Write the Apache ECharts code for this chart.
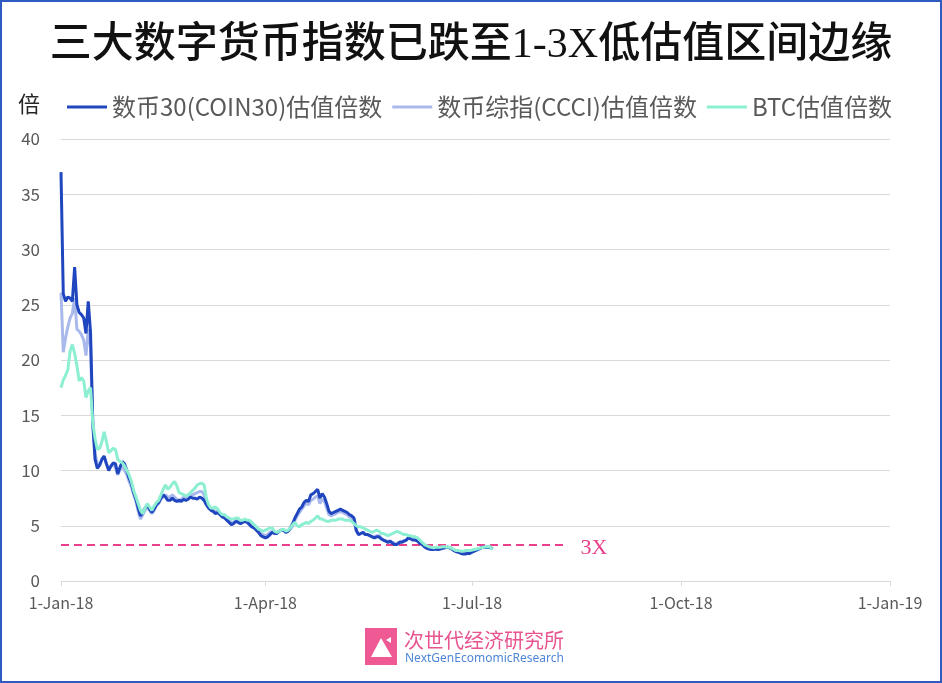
<!DOCTYPE html>
<html>
<head>
<meta charset="utf-8">
<script src="https://cdn.jsdelivr.net/npm/echarts@6/dist/echarts.min.js"></script>
<style>
html,body{margin:0;padding:0;background:#fff;}
#chart{width:942px;height:683px;}
</style>
</head>
<body>
<div id="chart"></div>
<script>
// ---- data (daily, starting 1-Jan-2018) ----
const startDay = [2018, 0, 1];
const seriesNames = ['数币30(COIN30)估值倍数', '数币综指(CCCI)估值倍数', 'BTC估值倍数'];
const coin30 = [
37.0,26.0,25.3,25.7,25.6,25.3,28.4,25.0,24.3,24.1,
23.8,22.4,25.3,22.5,14.3,11.0,10.2,10.5,11.0,11.3,
10.6,10.0,10.4,10.7,10.6,9.7,10.3,10.8,10.6,10.0,
9.3,8.8,8.0,7.4,6.6,5.9,6.2,6.6,6.9,6.5,
6.2,6.5,6.9,7.1,7.5,7.8,7.6,7.3,7.3,7.5,
7.3,7.2,7.3,7.2,7.4,7.3,7.4,7.6,7.5,7.5,
7.4,7.6,7.5,7.3,6.9,6.6,6.4,6.3,6.1,6.2,
6.0,5.8,5.7,5.5,5.3,5.1,5.2,5.4,5.3,5.2,
5.3,5.4,5.3,5.1,4.9,4.8,4.6,4.4,4.1,4.0,
3.9,4.0,4.2,4.4,4.3,4.3,4.5,4.6,4.6,4.4,
4.5,4.8,5.2,5.7,6.1,6.5,6.7,7.1,7.3,7.2,
7.8,7.9,8.1,8.3,7.5,7.9,7.6,7.0,6.3,6.1,
6.2,6.3,6.4,6.5,6.4,6.3,6.2,6.0,5.9,5.7,
4.6,4.2,4.3,4.4,4.2,4.2,4.1,4.0,3.9,4.0,
4.0,3.8,3.7,3.6,3.5,3.6,3.4,3.3,3.3,3.5,
3.5,3.6,3.7,3.9,3.8,3.7,3.7,3.6,3.4,3.3,
3.1,2.95,2.9,2.85,2.85,2.9,2.85,2.9,2.95,3.0,
3.05,3.0,2.9,2.75,2.65,2.6,2.5,2.45,2.45,2.5,
2.5,2.6,2.7,2.8,2.9,3.0,3.05,3.05,3.05,3.05,
2.9
];
const ccci = [
26.1,20.7,22.0,23.0,23.8,24.2,25.6,22.8,22.6,22.3,
21.8,20.4,22.8,21.2,14.0,11.5,10.6,10.4,11.0,11.3,
10.6,10.2,10.4,10.6,10.2,9.6,10.1,10.4,10.0,9.6,
9.0,8.5,7.8,7.2,6.3,5.6,6.0,6.4,6.7,6.4,
6.1,6.4,6.8,7.0,7.4,7.6,7.8,7.6,7.6,7.8,
7.6,7.4,7.3,7.4,7.6,7.6,7.7,7.8,7.8,7.9,
8.0,8.1,8.1,7.8,7.1,6.7,6.5,6.4,6.3,6.3,
6.1,5.9,5.8,5.7,5.5,5.3,5.3,5.5,5.5,5.3,
5.4,5.5,5.4,5.3,5.0,4.9,4.7,4.5,4.3,4.2,
4.1,4.2,4.4,4.5,4.4,4.3,4.5,4.6,4.6,4.4,
4.5,4.7,5.0,5.5,5.9,6.2,6.5,6.8,7.0,6.9,
7.3,7.4,7.6,7.7,7.0,7.4,7.2,6.6,6.0,5.9,
6.0,6.1,6.2,6.3,6.2,6.1,6.0,5.8,5.7,5.5,
4.5,4.2,4.3,4.4,4.2,4.2,4.1,4.0,4.0,4.1,
4.1,3.9,3.7,3.6,3.6,3.6,3.5,3.4,3.4,3.5,
3.6,3.6,3.7,3.9,3.9,3.8,3.8,3.7,3.5,3.3,
3.2,3.0,2.95,2.9,2.9,2.95,2.9,2.95,3.0,3.0,
3.05,3.05,2.95,2.8,2.7,2.65,2.55,2.5,2.5,2.55,
2.55,2.65,2.75,2.85,2.9,3.0,3.05,3.05,3.05,3.05,
2.9
];
const btc = [
17.5,18.2,18.6,19.1,20.8,21.4,20.6,19.5,18.1,18.4,
18.1,16.6,17.2,17.5,14.3,12.9,11.9,12.0,12.6,13.5,
12.6,11.6,11.8,12.0,11.9,11.0,10.8,10.7,10.4,10.0,
9.6,9.0,8.2,7.6,7.0,6.4,6.1,6.6,7.0,6.7,
6.4,6.8,7.1,7.3,7.8,8.3,8.7,8.3,8.5,8.8,
9.0,8.6,8.0,7.9,7.8,7.7,7.8,8.0,8.2,8.4,
8.7,8.8,8.85,8.7,7.5,6.9,6.6,6.6,6.7,6.5,
6.2,6.0,6.0,5.8,5.7,5.6,5.6,5.7,5.7,5.5,
5.5,5.6,5.5,5.5,5.3,5.1,4.9,4.7,4.6,4.5,
4.6,4.7,4.8,4.8,4.5,4.4,4.5,4.6,4.7,4.5,
4.6,4.8,5.1,5.3,5.0,4.9,5.1,5.2,5.3,5.2,
5.4,5.5,5.7,5.9,5.6,5.6,5.5,5.4,5.4,5.5,
5.5,5.5,5.6,5.6,5.6,5.5,5.5,5.5,5.4,5.2,
5.0,4.9,4.9,4.8,4.7,4.6,4.5,4.4,4.5,4.6,
4.5,4.3,4.3,4.2,4.1,4.2,4.3,4.4,4.5,4.4,
4.3,4.2,4.2,4.1,4.1,4.0,4.0,3.9,3.7,3.5,
3.3,3.2,3.1,3.05,3.0,3.05,3.05,3.05,3.1,3.1,
3.05,3.05,2.95,2.85,2.75,2.75,2.7,2.7,2.75,2.75,
2.75,2.8,2.85,2.9,2.95,3.0,3.05,3.1,3.1,3.1,
2.85
];
// 3X reference line
const thresholdValue = 3.25;
const thresholdLabel = '3X';
const thresholdStart = [2018, 0, 1];
const thresholdEnd = [2018, 7, 12];
// x-axis ticks
const tickDates = [[2018,0,1],[2018,3,1],[2018,6,1],[2018,9,1],[2019,0,1]];
const tickLabels = ['1-Jan-18','1-Apr-18','1-Jul-18','1-Oct-18','1-Jan-19'];
const yTickLabels = ['0','5','10','15','20','25','30','35','40'];

// ---- build ----
const DAY = 86400000;
function dayOf(a){ return Math.round((Date.UTC(a[0], a[1], a[2]) - Date.UTC(startDay[0], startDay[1], startDay[2])) / DAY); }
function toSeries(vals){ return vals.map((v,i)=>[i, v]); }
const tickDays = tickDates.map(dayOf);

const chart = echarts.init(document.getElementById('chart'), null, {renderer:'canvas'});
const colors = ['#2046BF', '#A9B9EC', '#8DEFD2'];
const cjk = "'Noto Sans CJK SC', 'Noto Sans', sans-serif";

const option = {
  animation: false,
  backgroundColor: '#ffffff',
  title: {
    text: '三大数字货币指数已跌至1-3X低估值区间边缘',
    left: 'center',
    top: 20,
    textStyle: {
      fontSize: 42,
      fontWeight: 500,
      color: '#111111',
      fontFamily: "'Liberation Serif', 'Noto Sans CJK SC', serif"
    }
  },
  legend: {
    data: seriesNames,
    left: 62,
    top: 90,
    icon: 'rect',
    itemWidth: 40,
    itemHeight: 3,
    itemGap: 10,
    textStyle: { fontSize: 24, color: '#595959', fontFamily: cjk }
  },
  grid: { left: 61, right: 52, top: 139, bottom: 102, containLabel: false },
  xAxis: {
    type: 'value',
    min: tickDays[0],
    max: tickDays[tickDays.length-1],
    axisLine: { show: true, lineStyle: { color: '#D9D9D9', width: 1 } },
    axisTick: { show: true, length: 5, lineStyle: { color: '#D9D9D9' }, customValues: tickDays },
    axisLabel: {
      customValues: tickDays,
      showMinLabel: true, showMaxLabel: true,
      formatter: function(v){ const i = tickDays.indexOf(Math.round(v)); return i >= 0 ? tickLabels[i] : ''; },
      fontSize: 16, color: '#595959', margin: 14, fontFamily: cjk
    },
    splitLine: { show: false }
  },
  yAxis: {
    type: 'value',
    min: 0, max: 40, interval: 5,
    axisLine: { show: false },
    axisTick: { show: false },
    axisLabel: {
      fontSize: 17, color: '#595959', margin: 21, fontFamily: cjk,
      formatter: function(v){ return yTickLabels[Math.round(v/5)]; }
    },
    splitLine: { lineStyle: { color: '#D9D9D9', width: 1 } }
  },
  series: [
    { name: seriesNames[0], type: 'line', data: toSeries(coin30), showSymbol: false, symbol: 'none',
      lineStyle: { width: 3, color: colors[0] }, itemStyle: { color: colors[0] }, z: 3 },
    { name: seriesNames[1], type: 'line', data: toSeries(ccci), showSymbol: false, symbol: 'none',
      lineStyle: { width: 3, color: colors[1] }, itemStyle: { color: colors[1] }, z: 2 },
    { name: seriesNames[2], type: 'line', data: toSeries(btc), showSymbol: false, symbol: 'none',
      lineStyle: { width: 3, color: colors[2] }, itemStyle: { color: colors[2] }, z: 4 },
    { name: thresholdLabel, type: 'line', symbol: 'none', showSymbol: false,
      data: [[dayOf(thresholdStart), thresholdValue], [dayOf(thresholdEnd), thresholdValue]],
      lineStyle: { width: 2, color: '#E8408A', type: [8, 5] },
      endLabel: { show: true, formatter: thresholdLabel, color: '#E8408A', fontSize: 22,
        fontFamily: "'Liberation Serif', serif", distance: 13, offset: [0, 3] },
      z: 1 }
  ],
  graphic: [
    { type: 'rect', shape: { x: 1, y: 1, width: 940, height: 681 }, style: { fill: 'none', stroke: '#2F5BC0', lineWidth: 2 }, z: 100 },
    { type: 'text', x: 18, y: 104, style: { text: '倍', fontSize: 22, fill: '#262626', fontFamily: cjk, verticalAlign: 'middle' } },
    { type: 'rect', shape: { x: 365, y: 628, width: 32, height: 37 }, style: { fill: '#EF5A94' } },
    { type: 'polygon', shape: { points: [[371,657],[381,638],[392,657]] }, style: { fill: '#ffffff' } },
    { type: 'polygon', shape: { points: [[377,665],[381,657],[386,665]] }, style: { fill: '#EF5A94' } },
    { type: 'polygon', shape: { points: [[386,640],[391,637],[391,643]] }, style: { fill: '#ffffff' } },
    { type: 'text', x: 404, y: 640, style: { text: '次世代经济研究所', fontSize: 20, fill: '#E8548F', fontFamily: cjk, verticalAlign: 'middle' } },
    { type: 'text', x: 405, y: 659, style: { text: 'NextGenEcomomicResearch', fontSize: 12, fill: '#4F86D6', fontFamily: "'Noto Sans', sans-serif", verticalAlign: 'middle' } }
  ]
};
chart.setOption(option);
</script>
</body>
</html>
